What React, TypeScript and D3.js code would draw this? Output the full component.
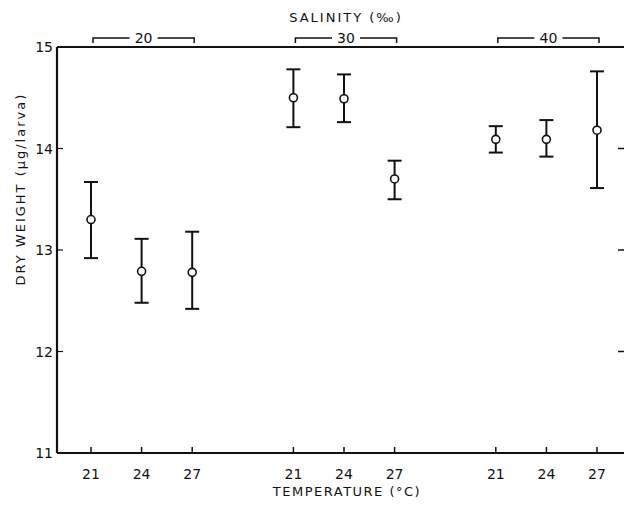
import React from "react";
import * as d3 from "d3";

const salinities = ["20", "30", "40"];
const temperatures = ["21", "24", "27"];
const means = [13.3, 12.79, 12.78, 14.5, 14.49, 13.7, 14.09, 14.09, 14.18];
const upper = [13.67, 13.11, 13.18, 14.78, 14.73, 13.88, 14.22, 14.28, 14.76];
const lower = [12.92, 12.48, 12.42, 14.21, 14.26, 13.5, 13.96, 13.92, 13.61];
const yTicks = [11, 12, 13, 14, 15];

const W = 624;
const H = 505;
const FONT = "'DejaVu Sans', sans-serif";

export default function App() {
  const x = d3.scaleLinear().domain([0, 10]).range([91, 597]);
  const y = d3.scaleLinear().domain([11, 15]).range([453, 47]);
  const left = 57;
  const right = 624;
  const slot = (g: number, t: number) => g * 4 + t;
  const points = means.map((m, i) => ({
    m,
    hi: upper[i],
    lo: lower[i],
    g: Math.floor(i / 3),
    t: i % 3,
  }));
  const cap = 7;
  return (
    <svg
      width={W}
      height={H}
      style={{ position: "absolute", left: 0, top: 0, background: "#fff" }}
    >
      {/* frame */}
      <g stroke="#111" fill="none">
        <line x1={left} y1={y(11)} x2={right} y2={y(11)} strokeWidth={2} />
        <line x1={left} y1={y(11)} x2={left} y2={y(15)} strokeWidth={2.2} />
        <line x1={left} y1={y(15)} x2={right} y2={y(15)} strokeWidth={1.8} />
      </g>
      {/* y ticks */}
      {yTicks.map((v) => (
        <g key={v}>
          {v > 11 && v < 15 && (
            <>
              <line x1={left} x2={left + 6} y1={y(v)} y2={y(v)} stroke="#111" strokeWidth={1.2} />
              <line x1={right - 6} x2={right} y1={y(v)} y2={y(v)} stroke="#111" strokeWidth={1.5} />
            </>
          )}
          <text
            x={left - 4}
            y={y(v)}
            dy="0.36em"
            textAnchor="end"
            fontFamily={FONT}
            fontSize={14}
            fill="#111"
          >
            {v}
          </text>
        </g>
      ))}
      {/* x ticks */}
      {salinities.map((s, g) =>
        temperatures.map((t, ti) => (
          <g key={s + t}>
            <line
              x1={x(slot(g, ti))}
              x2={x(slot(g, ti))}
              y1={y(11)}
              y2={y(11) - 6}
              stroke="#111"
              strokeWidth={1.5}
            />
            <text
              x={x(slot(g, ti))}
              y={y(11) + 21}
              dy="0.36em"
              textAnchor="middle"
              fontFamily={FONT}
              fontSize={14}
              fill="#111"
            >
              {t}
            </text>
          </g>
        ))
      )}
      {/* salinity brackets */}
      {salinities.map((s, g) => {
        const x0 = x(slot(g, 0)) + 2;
        const x1 = x(slot(g, 2)) + 2;
        const cx = (x0 + x1) / 2;
        const by = 38;
        const gap = 14;
        return (
          <g key={s} stroke="#111" fill="none" strokeWidth={1.5}>
            <path d={`M${x0},${by + 5}V${by}H${cx - gap}`} />
            <path d={`M${cx + gap},${by}H${x1}V${by + 5}`} />
            <text
              x={cx}
              y={by}
              dy="0.36em"
              textAnchor="middle"
              fontFamily={FONT}
              fontSize={14}
              fill="#111"
              stroke="none"
            >
              {s}
            </text>
          </g>
        );
      })}
      <text
        x={346}
        y={17}
        dy="0.36em"
        textAnchor="middle"
        fontFamily={FONT}
        fontSize={13}
        letterSpacing={2}
        fill="#111"
      >
        SALINITY (‰)
      </text>
      <text
        x={347}
        y={491}
        dy="0.36em"
        textAnchor="middle"
        fontFamily={FONT}
        fontSize={13}
        letterSpacing={1.5}
        fill="#111"
      >
        TEMPERATURE (°C)
      </text>
      <text
        transform={`translate(20,${y(13.6)}) rotate(-90)`}
        dy="0.36em"
        textAnchor="middle"
        fontFamily={FONT}
        fontSize={13}
        letterSpacing={2}
        fill="#111"
      >
        DRY WEIGHT (μg/larva)
      </text>
      {/* error bars */}
      {points.map((p, i) => {
        const cx = x(slot(p.g, p.t));
        return (
          <g key={i} stroke="#111" strokeWidth={2}>
            <line x1={cx} x2={cx} y1={y(p.hi)} y2={y(p.lo)} />
            <line x1={cx - cap} x2={cx + cap} y1={y(p.hi)} y2={y(p.hi)} />
            <line x1={cx - cap} x2={cx + cap} y1={y(p.lo)} y2={y(p.lo)} />
            <circle cx={cx} cy={y(p.m)} r={4} fill="#fff" strokeWidth={1.6} />
          </g>
        );
      })}
    </svg>
  );
}
